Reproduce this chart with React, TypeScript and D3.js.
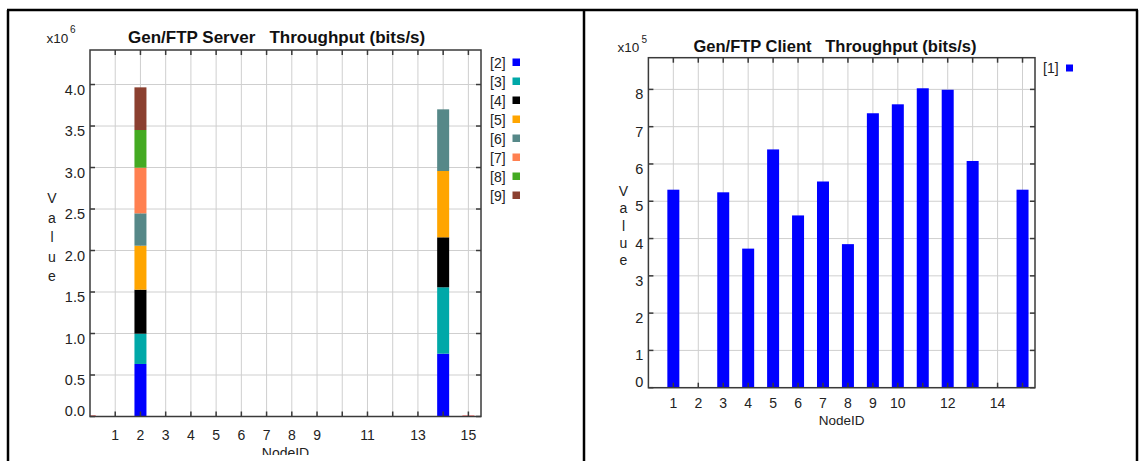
import React from "react";
import * as d3 from "d3";

// server chart: stacked throughput per node (x1e6 bits/s)
const serverSeries = ["[2]", "[3]", "[4]", "[5]", "[6]", "[7]", "[8]", "[9]"];
const serverColors = ["#0000ff", "#00a8a8", "#000000", "#ffa500", "#568888", "#ff8050", "#44aa22", "#8b4030"];
const serverNodes = [2, 14];
const serverNode2 = [0.633, 0.365, 0.53, 0.53, 0.39, 0.55, 0.454, 0.514];
const serverNode14 = [0.757, 0.8, 0.602, 0.799, 0.743, 0, 0, 0];
const serverTinyNodes = [0, 15];
const serverTinyValues = [0.015, 0.015];
const serverXTicks = [1, 2, 3, 4, 5, 6, 7, 8, 9, 11, 13, 15];
const serverYTicks = [0, 0.5, 1, 1.5, 2, 2.5, 3, 3.5, 4];

// client chart (x1e5 bits/s)
const clientNodes = [1, 2, 3, 4, 5, 6, 7, 8, 9, 10, 11, 12, 13, 14, 15];
const clientValues = [5.31, 0, 5.24, 3.73, 6.39, 4.62, 5.53, 3.85, 7.36, 7.6, 8.03, 7.99, 6.08, 0, 5.31];
const clientXTicks = [1, 2, 3, 4, 5, 6, 7, 8, 9, 10, 12, 14];
const clientYTicks = [0, 1, 2, 3, 4, 5, 6, 7, 8];

const font = "'Liberation Sans', Arial, sans-serif";
const gridAll = d3.range(1, 16);

type Box = { x0: number; x1: number; y0: number; y1: number };

function Frame({ box, x, y, yTicks, xTicks, yFmt, tickDy, xLabelDy }: {
  box: Box; x: d3.ScaleLinear<number, number>; y: d3.ScaleLinear<number, number>;
  yTicks: number[]; xTicks: number[]; yFmt: (v: number) => string; tickDy: number; xLabelDy: number;
}) {
  return (
    <g>
      {gridAll.map(v => (
        <line key={"gx" + v} x1={x(v)} x2={x(v)} y1={box.y0} y2={box.y1} stroke="#cfcfcf" strokeWidth={1} />
      ))}
      {yTicks.map(v => (
        <line key={"gy" + v} x1={box.x0} x2={box.x1} y1={y(v)} y2={y(v)} stroke="#cfcfcf" strokeWidth={1} />
      ))}
      {yTicks.map(v => (
        <text key={"ly" + v} x={box.x0 - 5} y={v === 0 ? y(v) - 1 : y(v) + tickDy} textAnchor="end"
          fontSize={14.5} fontFamily={font} fill="#222">{yFmt(v)}</text>
      ))}
      {xTicks.map(v => (
        <text key={"lx" + v} x={x(v)} y={box.y1 + xLabelDy} textAnchor="middle"
          fontSize={14} fontFamily={font} fill="#222">{v}</text>
      ))}
    </g>
  );
}

function FrameAxes({ box, x, y, yTicks }: {
  box: Box; x: d3.ScaleLinear<number, number>; y: d3.ScaleLinear<number, number>; yTicks: number[];
}) {
  return (
    <g stroke="#3a3a3a" strokeWidth={1.5}>
      <rect x={box.x0} y={box.y0} width={box.x1 - box.x0} height={box.y1 - box.y0} fill="none" />
      {gridAll.map(v => (
        <g key={"t" + v}>
          <line x1={x(v)} x2={x(v)} y1={box.y0} y2={box.y0 + 5} />
          <line x1={x(v)} x2={x(v)} y1={box.y1} y2={box.y1 - 5} />
        </g>
      ))}
      {yTicks.map(v => (
        <g key={"ty" + v}>
          <line x1={box.x0} x2={box.x0 + 5} y1={y(v)} y2={y(v)} />
          <line x1={box.x1} x2={box.x1 - 5} y1={y(v)} y2={y(v)} />
        </g>
      ))}
    </g>
  );
}

function VLabel({ x, y, step }: { x: number; y: number; step: number }) {
  return (
    <g>
      {"Value".split("").map((c, i) => (
        <text key={i} x={x} y={y + i * step} textAnchor="middle" fontSize={14} fontFamily={font} fill="#222">{c}</text>
      ))}
    </g>
  );
}

const App: React.FC = () => {
  const sBox: Box = { x0: 90, x1: 481, y0: 50, y1: 416.5 };
  const sx = d3.scaleLinear().domain([0, 15.5]).range([sBox.x0, sBox.x1]);
  const sy = d3.scaleLinear().domain([0, 4.416]).range([sBox.y1, sBox.y0]);

  const rows = serverNodes.map((n, i) => {
    const vals = i === 0 ? serverNode2 : serverNode14;
    const r: any = { node: n };
    serverSeries.forEach((s, j) => (r[s] = vals[j]));
    return r;
  });
  const stacked = d3.stack<any>().keys(serverSeries)(rows);

  const cBox: Box = { x0: 648.4, x1: 1035, y0: 57.7, y1: 387.7 };
  const cx = d3.scaleLinear().domain([0, 15.5]).range([cBox.x0, cBox.x1]);
  const cy = d3.scaleLinear().domain([0, 8.85]).range([cBox.y1, cBox.y0]);

  const bw = 12;

  return (
    <svg width={1140} height={461} style={{ position: "absolute", left: 0, top: 0 }}>
      <defs>
        <clipPath id="panelClip">
          <rect x={0} y={0} width={1140} height={455} />
        </clipPath>
      </defs>
      <rect x={0} y={0} width={1140} height={461} fill="#fff" />

      {/* server chart */}
      <Frame box={sBox} x={sx} y={sy} yTicks={serverYTicks} xTicks={serverXTicks}
        yFmt={v => v.toFixed(1)} tickDy={10} xLabelDy={23.5} />
      {stacked.map((layer, j) => (
        <g key={layer.key} fill={serverColors[j]}>
          {layer.map((d, k) => (
            d[1] - d[0] > 0 ? (
              <rect key={k} x={sx(d.data.node) - bw / 2} width={bw} y={sy(d[1])} height={sy(d[0]) - sy(d[1])} />
            ) : null
          ))}
        </g>
      ))}
      <g fill="#ff8080">
        {serverTinyNodes.map((n, i) => (
          <rect key={n} x={Math.max(sBox.x0, sx(n) - bw / 2)} y={sy(serverTinyValues[i])}
            width={Math.min(sx(n) + bw / 2, sBox.x1) - Math.max(sBox.x0, sx(n) - bw / 2)}
            height={sy(0) - sy(serverTinyValues[i])} />
        ))}
      </g>
      <FrameAxes box={sBox} x={sx} y={sy} yTicks={serverYTicks} />
      <text x={128} y={43} fontSize={17} fontWeight="bold" fontFamily={font} fill="#111">
        Gen/FTP Server{"\u00a0\u00a0\u00a0"}Throughput (bits/s)
      </text>
      <text x={46.5} y={43} fontSize={13.5} fontFamily={font} fill="#222">x10</text>
      <text x={70} y={33} fontSize={10} fontFamily={font} fill="#222">6</text>
      <VLabel x={52} y={203} step={19.5} />
      <g clipPath="url(#panelClip)">
        <text x={(sBox.x0 + sBox.x1) / 2} y={458} textAnchor="middle" fontSize={14} fontFamily={font} fill="#222">NodeID</text>
      </g>
      {serverSeries.map((s, j) => (
        <g key={s}>
          <text x={490} y={68 + j * 19} fontSize={14} fontFamily={font} fill="#222">{s}</text>
          <rect x={512.5} y={58.5 + j * 19} width={7.5} height={7.5} fill={serverColors[j]} />
        </g>
      ))}

      {/* client chart */}
      <Frame box={cBox} x={cx} y={cy} yTicks={clientYTicks} xTicks={clientXTicks}
        yFmt={v => String(v)} tickDy={10} xLabelDy={20} />
      <g fill="#0000ff">
        {clientNodes.map((n, i) => (
          clientValues[i] > 0 ? (
            <rect key={n} x={cx(n) - bw / 2} width={bw} y={cy(clientValues[i])} height={cy(0) - cy(clientValues[i])} />
          ) : null
        ))}
      </g>
      <FrameAxes box={cBox} x={cx} y={cy} yTicks={clientYTicks} />
      <text x={693.5} y={52} fontSize={16.5} fontWeight="bold" fontFamily={font} fill="#111">
        Gen/FTP Client{"\u00a0\u00a0\u00a0"}Throughput (bits/s)
      </text>
      <text x={617.5} y={52} fontSize={13.5} fontFamily={font} fill="#222">x10</text>
      <text x={641.5} y={43} fontSize={10} fontFamily={font} fill="#222">5</text>
      <VLabel x={623.5} y={196} step={17.3} />
      <text x={(cBox.x0 + cBox.x1) / 2} y={425} textAnchor="middle" fontSize={13.5} fontFamily={font} fill="#222">NodeID</text>
      <text x={1043} y={73} fontSize={14} fontFamily={font} fill="#222">[1]</text>
      <rect x={1066} y={64.5} width={7} height={7} fill="#0000ff" />

      {/* outer frame */}
      <g stroke="#000" strokeWidth={2.5} fill="none">
        <line x1={7} x2={1138} y1={10} y2={10} />
        <line x1={8} x2={8} y1={10} y2={461} />
        <line x1={584} x2={584} y1={10} y2={461} />
        <line x1={1137} x2={1137} y1={10} y2={461} />
      </g>
    </svg>
  );
};

export default App;
